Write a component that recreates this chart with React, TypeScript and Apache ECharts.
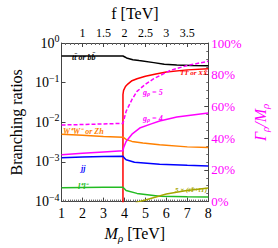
import React, { useEffect, useRef } from "react";
import * as echarts from "echarts";

// Branching ratios (left, log axis) vs M_rho [TeV]
const blackTT: [number, number][] = [[1, 0.47], [2, 0.47], [3, 0.47], [3.93, 0.47], [4.0, 0.45], [4.1, 0.42], [4.4, 0.38], [4.7, 0.36], [5.4, 0.32], [5.9, 0.29], [6.5, 0.28], [7.2, 0.27], [8, 0.266]];
const redTT: [number, number][] = [[3.93, 0.00005], [3.93, 0.05], [3.96, 0.064], [4.05, 0.08], [4.16, 0.092], [4.36, 0.112], [4.6, 0.125], [5.0, 0.145], [5.5, 0.165], [6.0, 0.185], [7.0, 0.21], [8, 0.225]];
const orangeWW: [number, number][] = [[1, 0.005], [2, 0.0047], [3, 0.0044], [3.93, 0.0042], [4.08, 0.0037], [4.36, 0.0033], [4.88, 0.003], [5.68, 0.0027], [7, 0.0024], [8, 0.0023]];
const blueJJ: [number, number][] = [[1, 0.00127], [2, 0.00133], [3, 0.00138], [3.93, 0.0014], [4.0, 0.00125], [4.08, 0.00114], [4.48, 0.00098], [5.68, 0.00088], [7, 0.00082], [8, 0.00079]];
const greenLL: [number, number][] = [[1, 0.000225], [2, 0.000228], [3, 0.00023], [3.93, 0.00023], [4.08, 0.00019], [4.6, 0.000161], [5.68, 0.000137], [7, 0.000132], [8, 0.00013]];
const oliveTt: [number, number][] = [[4.3, 0.00007], [4.6, 0.000097], [5.0, 0.00011], [5.5, 0.00013], [6.0, 0.000155], [6.9, 0.000188], [8, 0.00022]];

// Gamma_rho / M_rho (right axis, %)
const widthG5: [number, number][] = [[1, 48.3], [2, 48.6], [3, 49.0], [3.93, 49.3], [4.08, 56.9], [4.36, 64.4], [4.6, 69.5], [5.0, 74], [5.4, 77.5], [6.2, 82.8], [7, 85.8], [8, 88.5]];
const widthG4: [number, number][] = [[1, 29.5], [2, 30.5], [3, 31.3], [3.93, 32], [3.96, 33.9], [4.08, 37.9], [4.36, 42.5], [4.76, 46.6], [5.28, 49.0], [5.68, 50.8], [6.5, 53.3], [8, 55.8]];

const fTicksHidden = [0.5, 4];

const SERIF = "Liberation Serif";

export default function App() {
  const ref = useRef<HTMLDivElement>(null);
  useEffect(() => {
    if (!ref.current) return;
    const chart = echarts.init(ref.current, undefined, { renderer: "svg" });
    const lineS = (name: string, data: [number, number][], color: string, yIdx = 0, dashed = false) => ({
      name,
      type: "line",
      data,
      xAxisIndex: 0,
      yAxisIndex: yIdx,
      showSymbol: false,
      symbol: "none",
      smooth: false,
      clip: true,
      lineStyle: { color, width: 1.5, type: dashed ? [4, 2] : "solid" },
      z: 3,
    });
    const txt = (x: number, y: number, text: string, color: string, size = 8, rich?: any) => ({
      type: "text",
      x,
      y,
      style: {
        text,
        fill: color,
        fontSize: size,
        fontStyle: "italic",
        fontWeight: "bold",
        fontFamily: SERIF,
        verticalAlign: "middle",
        rich,
      },
      z: 10,
    });
    const subRich = (color: string) => ({
      s: { fontSize: 6, fontStyle: "italic", fontWeight: "bold", fontFamily: SERIF, fill: color, padding: [4, 0, 0, 0] },
    });
    chart.setOption({
      animation: false,
      textStyle: { fontFamily: SERIF },
      grid: { left: 48, right: 55, top: 35, bottom: 39 },
      xAxis: [
        {
          type: "value",
          position: "bottom",
          min: 1,
          max: 8,
          interval: 1,
          name: "{i|M}{s|ρ} [TeV]",
          nameLocation: "middle",
          nameGap: 22,
          nameTextStyle: {
            fontSize: 16,
            color: "#000",
            fontFamily: SERIF,
            rich: {
              i: { fontSize: 16, fontStyle: "italic", fontFamily: SERIF },
              s: { fontSize: 11, fontStyle: "italic", fontFamily: SERIF, padding: [8, 0, 0, 0] },
            },
          },
          axisLine: { lineStyle: { color: "#444", width: 1 } },
          axisTick: { inside: true, length: 4, lineStyle: { color: "#444" } },
          minorTick: { show: true, splitNumber: 10, length: 2, lineStyle: { color: "#666" } },
          axisLabel: { fontSize: 14, color: "#000", margin: 5, fontFamily: SERIF },
          splitLine: { show: false },
        },
        {
          type: "value",
          position: "top",
          min: 0.5,
          max: 4,
          interval: 0.5,
          name: "f [TeV]",
          nameLocation: "middle",
          nameGap: 22,
          nameTextStyle: { fontSize: 16, color: "#000", fontFamily: SERIF },
          axisLine: { lineStyle: { color: "#444", width: 1 } },
          axisTick: { inside: true, length: 4, lineStyle: { color: "#444" } },
          minorTick: { show: true, splitNumber: 5, length: 2, lineStyle: { color: "#666" } },
          axisLabel: {
            fontSize: 12,
            color: "#000",
            margin: 4,
            fontFamily: SERIF,
            formatter: (v: number) => (fTicksHidden.includes(v) ? "" : String(v)),
          },
          splitLine: { show: false },
        },
      ],
      yAxis: [
        {
          type: "log",
          position: "left",
          min: 1e-4,
          max: 1,
          logBase: 10,
          name: "Branching ratios",
          nameLocation: "middle",
          nameGap: 30,
          nameTextStyle: { fontSize: 16, color: "#000", fontFamily: SERIF },
          axisLine: { show: true, lineStyle: { color: "#444", width: 1 } },
          axisTick: { inside: true, length: 4, lineStyle: { color: "#444" } },
          minorTick: { show: false },
          axisLabel: {
            color: "#000",
            margin: 2,
            fontFamily: SERIF,
            formatter: (v: number) => {
              const e = Math.round(Math.log10(v));
              return "{b|10}{s|" + (e === 0 ? "0" : "−" + -e) + "}";
            },
            rich: {
              b: { fontSize: 14, fontFamily: SERIF, color: "#000" },
              s: { fontSize: 10, fontFamily: SERIF, color: "#000", padding: [0, 0, 9, 0] },
            },
          },
          splitLine: { show: false },
        },
        {
          type: "value",
          position: "right",
          min: 0,
          max: 100,
          interval: 20,
          name: "{i|Γ}{s|ρ}{i|/M}{s|ρ}",
          nameLocation: "middle",
          nameGap: 40,
          nameRotate: 90,
          nameTextStyle: {
            color: "#ff00ff",
            fontFamily: SERIF,
            rich: {
              i: { fontSize: 16, fontStyle: "italic", fontFamily: SERIF, color: "#ff00ff" },
              s: { fontSize: 11, fontStyle: "italic", fontFamily: SERIF, color: "#ff00ff", padding: [8, 0, 0, 0] },
            },
          },
          axisLine: { show: true, lineStyle: { color: "#444", width: 1 } },
          axisTick: { inside: true, length: 4, lineStyle: { color: "#444" } },
          minorTick: { show: true, splitNumber: 4, length: 2, lineStyle: { color: "#666" } },
          axisLabel: { fontSize: 13, color: "#ff00ff", margin: 3, fontFamily: SERIF, formatter: "{value}%" },
          splitLine: { show: false },
        },
      ],
      series: [
        lineS("ttbar", blackTT, "#000000"),
        lineS("TTbar", redTT, "#ff0000"),
        lineS("WW", orangeWW, "#ff8000"),
        lineS("jj", blueJJ, "#0000ff"),
        lineS("ll", greenLL, "#22bb22"),
        lineS("tT", oliveTt, "#a6a600"),
        lineS("g5", widthG5, "#ff00ff", 1, true),
        lineS("g4", widthG4, "#ff00ff", 1, false),
      ],
      graphic: [
        txt(72, 57, "tt̄ or bb̄", "#000000", 8),
        txt(180, 73, "TT̄ or XX̄", "#ff0000", 7),
        txt(143, 92, "g{s|ρ} = 5", "#ff00ff", 8, subRich("#ff00ff")),
        txt(143, 118, "g{s|ρ} = 4", "#ff00ff", 8, subRich("#ff00ff")),
        txt(63, 131, "W⁺W⁻ or Zh", "#ff8000", 8),
        txt(81, 168, "jj", "#0000ff", 8),
        txt(78, 186, "l⁺l⁻", "#22bb22", 8),
        txt(175, 190, "5 × (tT̄+t̄T)", "#a6a600", 7),
      ],
    });
    return () => chart.dispose();
  }, []);
  return <div ref={ref} style={{ width: 278, height: 248, position: "absolute", left: 0, top: 0 }} />;
}
